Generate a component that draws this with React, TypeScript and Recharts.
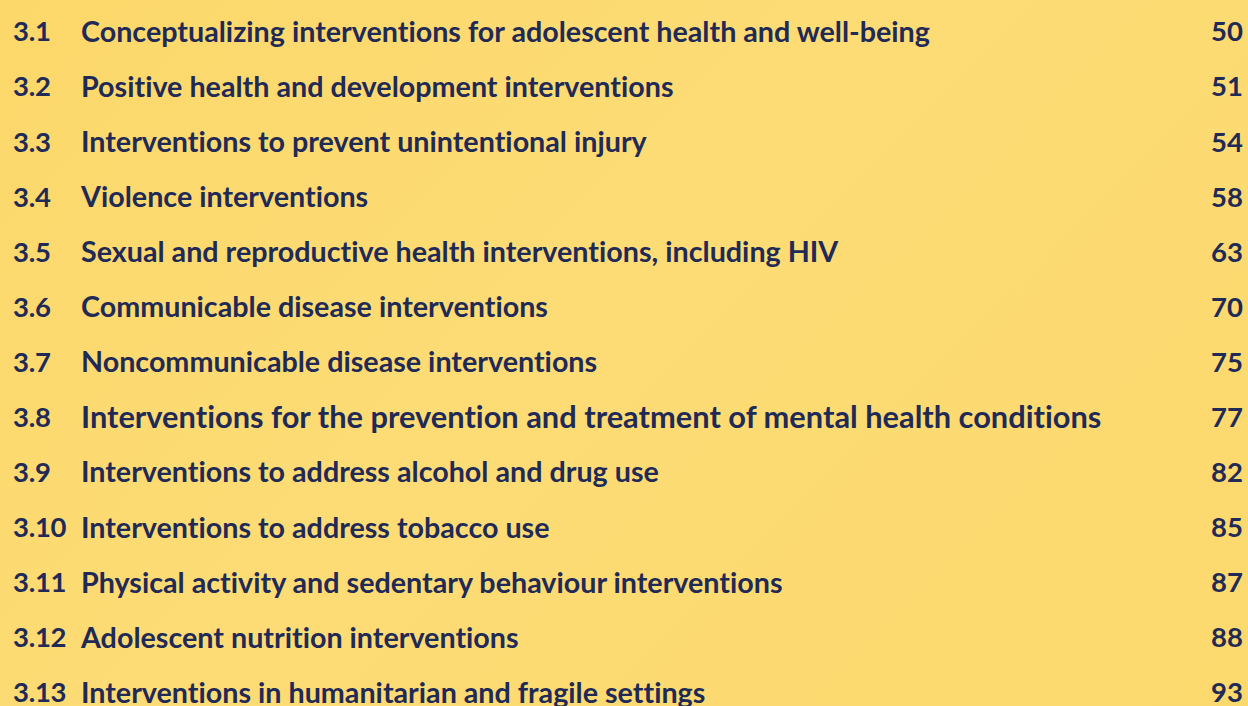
import React from 'react';
import { BarChart, Bar, XAxis, YAxis, LabelList } from 'recharts';

const sections = ['3.1', '3.2', '3.3', '3.4', '3.5', '3.6', '3.7', '3.8', '3.9', '3.10', '3.11', '3.12', '3.13'];
const titles = [
  'Conceptualizing interventions for adolescent health and well-being',
  'Positive health and development interventions',
  'Interventions to prevent unintentional injury',
  'Violence interventions',
  'Sexual and reproductive health interventions, including HIV',
  'Communicable disease interventions',
  'Noncommunicable disease interventions',
  'Interventions for the prevention and treatment of mental health conditions',
  'Interventions to address alcohol and drug use',
  'Interventions to address tobacco use',
  'Physical activity and sedentary behaviour interventions',
  'Adolescent nutrition interventions',
  'Interventions in humanitarian and fragile settings',
];
const pages = ['50', '51', '54', '58', '63', '70', '75', '77', '82', '85', '87', '88', '93'];

const data = sections.map((s, i) => ({ section: s, title: titles[i], page: pages[i], span: 1 }));

const INK = '#1F2A56';
const FONT = 'Lato, "Noto Sans", sans-serif';

const RowLabel = (props: any) => {
  const { x, y, width, height, index } = props;
  const cy = Number(y) + Number(height) / 2;
  const common = {
    fill: INK,
    fontFamily: FONT,
    fontWeight: 700,
    dy: '0.36em',
    style: { fontVariantLigatures: 'none' },
  } as any;
  const titleSize = index === 7 ? 30.8 : 28.7;
  return (
    <g>
      <text x={Number(x) + 13} y={cy} {...common} fontSize={27.5} letterSpacing={-0.3}>{sections[index]}</text>
      <text x={Number(x) + 81} y={cy} {...common} fontSize={titleSize}>{titles[index]}</text>
      <text x={Number(x) + Number(width) - 5} y={cy} textAnchor="end" {...common} fontSize={27.5}>{pages[index]}</text>
    </g>
  );
};

export default function App() {
  return (
    <div
      style={{
        position: 'fixed',
        left: 0,
        top: 0,
        width: 1248,
        height: 706,
        overflow: 'hidden',
        background: 'linear-gradient(135deg, #FCD86A 0%, #FDDC76 45%, #FCD96D 100%)',
      }}
    >
      <BarChart
        width={1248}
        height={720}
        data={data}
        layout="vertical"
        barCategoryGap={0}
        margin={{ top: 4, right: 0, bottom: 0, left: 0 }}
      >
        <XAxis type="number" hide domain={[0, 1]} />
        <YAxis type="category" dataKey="section" hide />
        <Bar dataKey="span" fill="rgba(0,0,0,0)" isAnimationActive={false}>
          <LabelList dataKey="section" content={<RowLabel />} />
        </Bar>
      </BarChart>
    </div>
  );
}
